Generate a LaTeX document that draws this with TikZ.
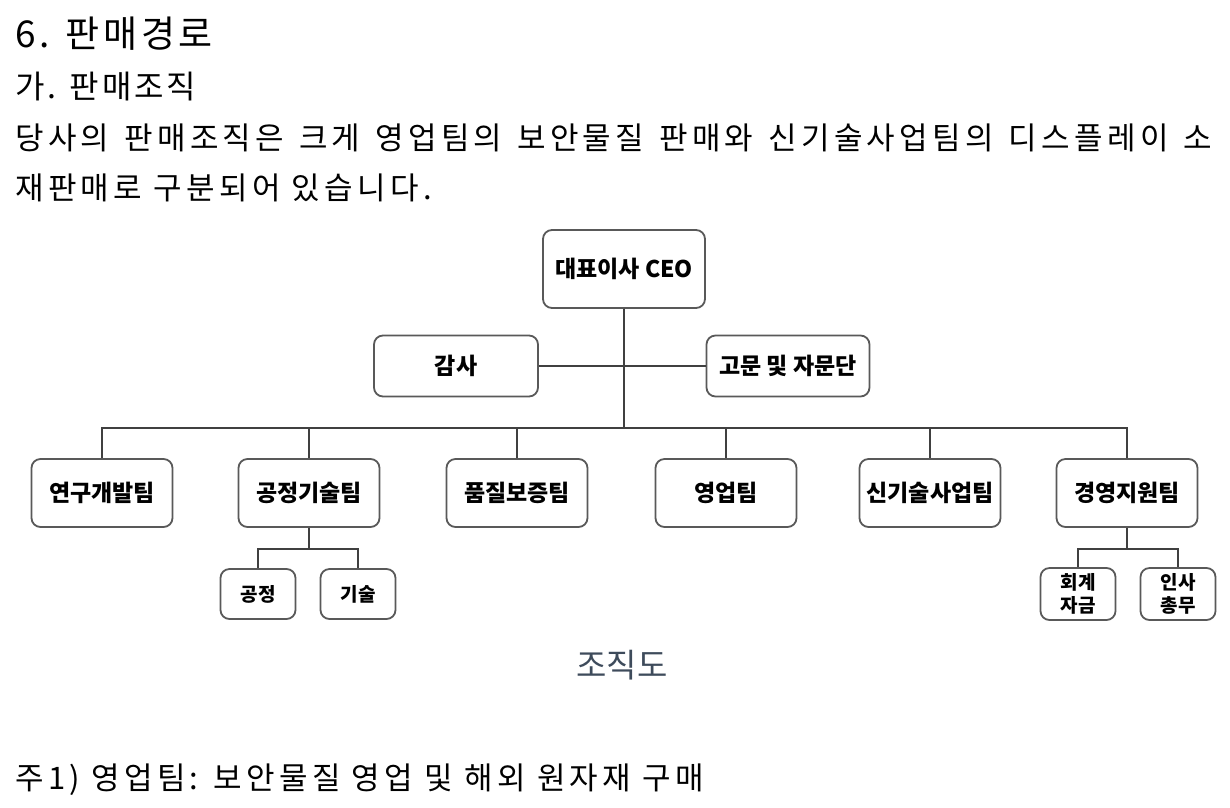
\documentclass[tikz,border=0pt]{standalone}
\usepackage{fontspec}
\setmainfont{Noto Sans CJK KR}
\usetikzlibrary{positioning,calc}
\definecolor{boxline}{HTML}{595959}
\definecolor{wire}{HTML}{404040}
\definecolor{capcol}{HTML}{3E4B5B}
\begin{document}
\begin{tikzpicture}[x=1pt,y=-1pt,
  org/.style={rectangle, draw=boxline, line width=1.8pt, rounded corners=9pt,
    align=center, inner sep=2pt, font=\bfseries\fontsize{23}{26}\selectfont},
  team/.style={org, minimum width=141pt, minimum height=68pt},
  sub/.style={org, minimum width=75pt, minimum height=50pt,
    font=\bfseries\fontsize{19}{23}\selectfont},
  wirel/.style={draw=wire, line width=1.4pt},
  body/.style={anchor=west, inner sep=0pt,
    font=\fontsize{31}{36}\selectfont\addfontfeature{LetterSpace=14}}
]
\useasboundingbox (0,0) rectangle (1230,807);
\node[body, font=\fontsize{37}{40}\selectfont\addfontfeature{LetterSpace=10}] (title) at (15,34) {6. 판매경로};
\node[body, font=\fontsize{32}{36}\selectfont\addfontfeature{LetterSpace=9}] (sec) at (15,87) {가. 판매조직};
\node[body] (par1) at (15,138) {\makebox[1197pt][s]{당사의 판매조직은 크게 영업팀의 보안물질 판매와 신기술사업팀의 디스플레이 소}};
\node[body] (par2) at (15,188) {재판매로 구분되어 있습니다.};

\node[org, minimum width=162pt, minimum height=78pt] (ceo) at (624,269) {대표이사 CEO};
\node[org, minimum width=164pt, minimum height=61pt] (audit) at (456,366) {감사};
\node[org, minimum width=163pt, minimum height=61pt] (advis) at (788,366) {고문 및 자문단};
\coordinate (bus) at (625,428);

\foreach \name/\x/\txt in {
  rnd/102/연구개발팀,
  proc/309/공정기술팀,
  qa/517/품질보증팀,
  sales/726/영업팀,
  newbiz/930/신기술사업팀,
  mgmt/1127/경영지원팀}
{
  \node[team] (\name) at (\x,493) {\txt};
  \draw[wirel] (ceo.south) -- (ceo.south |- bus) -| (\name.north);
}
\draw[wirel] (audit.east) -- (advis.west);

\node[sub] (gong) at (258,594) {공정};
\node[sub] (gisul) at (358,594) {기술};
\node[sub, minimum height=52pt] (acct) at (1078,594) {회계\\자금};
\node[sub, minimum height=52pt] (hr) at (1178,594) {인사\\총무};
\foreach \up/\lo in {proc/gong, proc/gisul, mgmt/acct, mgmt/hr}
  \draw[wirel] (\up.south) -- ++(0,21) -| (\lo.north);

\node[font=\fontsize{33}{38}\selectfont, text=capcol] (cap) at (622,665) {조직도};
\node[body] (note) at (15,780) {주1) 영업팀: 보안물질 영업 및 해외 원자재 구매};
\end{tikzpicture}
\end{document}
